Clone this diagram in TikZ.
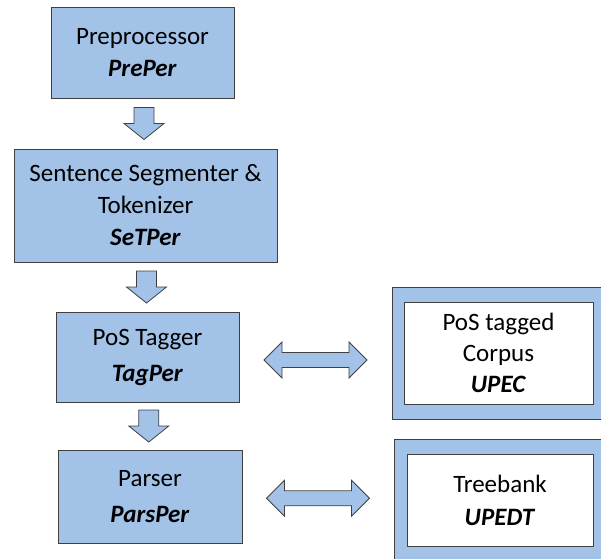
\documentclass[tikz,border=0pt]{standalone}
\usepackage{fontspec}
\setmainfont{Carlito}
\usetikzlibrary{calc}
\definecolor{boxblue}{HTML}{A2C2E8}
\definecolor{edgegray}{HTML}{404040}

\begin{document}
\begin{tikzpicture}[x=1pt,y=-1pt,
  module/.style={draw=edgegray,line width=1pt,fill=boxblue,align=center,inner sep=0pt,
    font=\fontsize{25}{32}\selectfont},
  store/.style={draw=edgegray,line width=1pt,fill=boxblue,inner sep=0pt},
  storetext/.style={draw=edgegray,line width=1pt,fill=white,align=center,inner sep=0pt,
    font=\fontsize{25}{31}\selectfont},
  flow/.style={draw=edgegray,line width=0.8pt,fill=boxblue,line join=miter},
  downarr/.pic={\path[flow] (-10,-16) -- (10,-16) -- (10,0) -- (20,0) -- (0,16)
    -- (-20,0) -- (-10,0) -- cycle;},
  dblarr/.pic={\path[flow] (-51.5,0) -- (-33.5,-18) -- (-33.5,-7.5) -- (33.5,-7.5)
    -- (33.5,-18) -- (51.5,0) -- (33.5,18) -- (33.5,7.5) -- (-33.5,7.5)
    -- (-33.5,18) -- cycle;}]
  \useasboundingbox (0,0) rectangle (601,558);
  \clip (0,0) rectangle (601,558);

  % ================= pipeline modules =================
  \node[module,minimum width=183pt,minimum height=91pt] (pre) at (142.5,52.5)
    {Preprocessor\\\textbf{\textit{PrePer}}};
  \node[module,minimum width=263pt,minimum height=113pt] (seg) at (145.5,205.5)
    {Sentence Segmenter \&\\Tokenizer\\\textbf{\textit{SeTPer}}};
  \node[module,minimum width=183pt,minimum height=90pt,font=\fontsize{25}{36}\selectfont]
    (tag) at (147.5,357) {PoS Tagger\\\textbf{\textit{TagPer}}};
  \node[module,minimum width=184pt,minimum height=93pt,font=\fontsize{25}{36}\selectfont]
    (pars) at (150,496.5) {Parser\\\textbf{\textit{ParsPer}}};

  % ================= resources (framed) =================
  \node[store,minimum width=213pt,minimum height=132pt] (corpus) at (498.5,353) {};
  \node[storetext,minimum width=189pt,minimum height=102pt] (corpustext) at (corpus.center)
    {PoS tagged\\Corpus\\\textbf{\textit{UPEC}}};
  \node[store,minimum width=212pt,minimum height=122pt] (tb) at (500,500) {};
  \node[storetext,minimum width=186pt,minimum height=92pt,font=\fontsize{25}{33}\selectfont]
    (tbtext) at (tb.center) {Treebank\\\textbf{\textit{UPEDT}}};

  % ================= block arrows =================
  \pic at ($(pre.south)!0.5!(seg.north)$) {downarr};
  \pic at ($(seg.south)!0.5!(tag.north)$) {downarr};
  \pic at ($(tag.south)!0.5!(pars.north)$) {downarr};
  \pic at ($(tag.east)!0.5!(corpus.west)+(0,5)$) {dblarr};
  \pic at ($(pars.east)!0.5!(tb.west)$) {dblarr};

\end{tikzpicture}
\end{document}
